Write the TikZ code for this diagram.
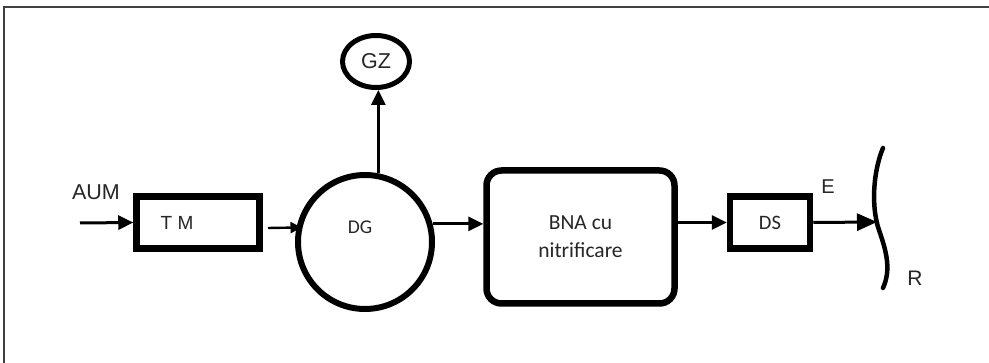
\documentclass[tikz,border=0pt]{standalone}
\usepackage{fontspec}
\setmainfont{Liberation Sans}
\newfontfamily\calib{Carlito}
\usetikzlibrary{arrows.meta,shapes.geometric}

\tikzset{
  blk/.style={draw=black, line width=6.5pt, fill=white, inner sep=0pt},
  flow/.style={draw=black, line width=3pt, -{Triangle[length=15pt,width=14pt]}},
  lbl/.style={text=black!85, inner sep=0pt},
}

\begin{document}
\begin{tikzpicture}[x=1pt, y=-1pt]
  \useasboundingbox (0,0) rectangle (989,363);
  \fill[white] (0,0) rectangle (989,363);

  % outer frame (top and left edges only)
  \draw[black!75, line width=1.5pt] (4,363) -- (4,7) -- (989,7);

  % process blocks
  \node[blk, rectangle, minimum width=123pt, minimum height=52pt] (TM) at (198,222.5) {};
  \node[lbl, font=\fontsize{19}{21}\selectfont] (tmtxt) at (177,222.5) {T M};

  \node[blk, circle, line width=6pt, minimum size=134pt] (DG) at (365,242) {};
  \node[lbl, font=\calib\fontsize{19.5}{21}\selectfont] (dgtxt) at (360,227) {DG};

  \node[blk, ellipse, line width=5pt, minimum width=67pt, minimum height=52pt,
        font=\fontsize{21.5}{23}\selectfont, text=black!85] (GZ) at (376,61.5) {GZ};

  \node[blk, rectangle, rounded corners=15pt, minimum width=188pt, minimum height=133pt,
        align=center, font=\calib\fontsize{21.5}{28}\selectfont, text=black!85] (BNA) at (580.5,237)
        {BNA cu\\nitrificare};

  \node[blk, rectangle, minimum width=80pt, minimum height=52pt,
        font=\calib\fontsize{20.5}{22}\selectfont, text=black!85] (DS) at (770,222.5) {DS};

  % labels
  \node[lbl, font=\fontsize{21.5}{23}\selectfont] (aum) at (96,192) {AUM};
  \node[lbl, font=\fontsize{20}{22}\selectfont] (elbl) at (828,187) {E};
  \node[lbl, font=\fontsize{21}{23}\selectfont] (rlbl) at (915,278) {R};

  % receiving water (R)
  \draw[black, line width=4.5pt, line cap=round]
    (883,148) .. controls (873,172) and (871,207) .. (879,230)
              .. controls (887,253) and (891,270) .. (883,288);

  % connectors
  \coordinate (aumin) at (80,223);
  \coordinate (tmout) at (268,228);
  \coordinate (rtip) at (877,222);

  \draw[flow] (aumin) -- (TM.west);
  \draw[draw=black, line width=2.4pt, -{Triangle[length=11pt,width=11pt]}]
    (tmout) -- ([xshift=5pt]DG.168);
  \draw[flow] (DG.79) -- (DG.79 |- GZ.south);
  \draw[flow] (DG.15) -- (DG.15 -| BNA.west);
  \draw[flow] (BNA.east |- DS.west) -- (DS.west);
  \draw[draw=black, line width=3pt, -{Triangle[length=20pt,width=17pt]}]
    (DS.east) -- (rtip);
\end{tikzpicture}
\end{document}
